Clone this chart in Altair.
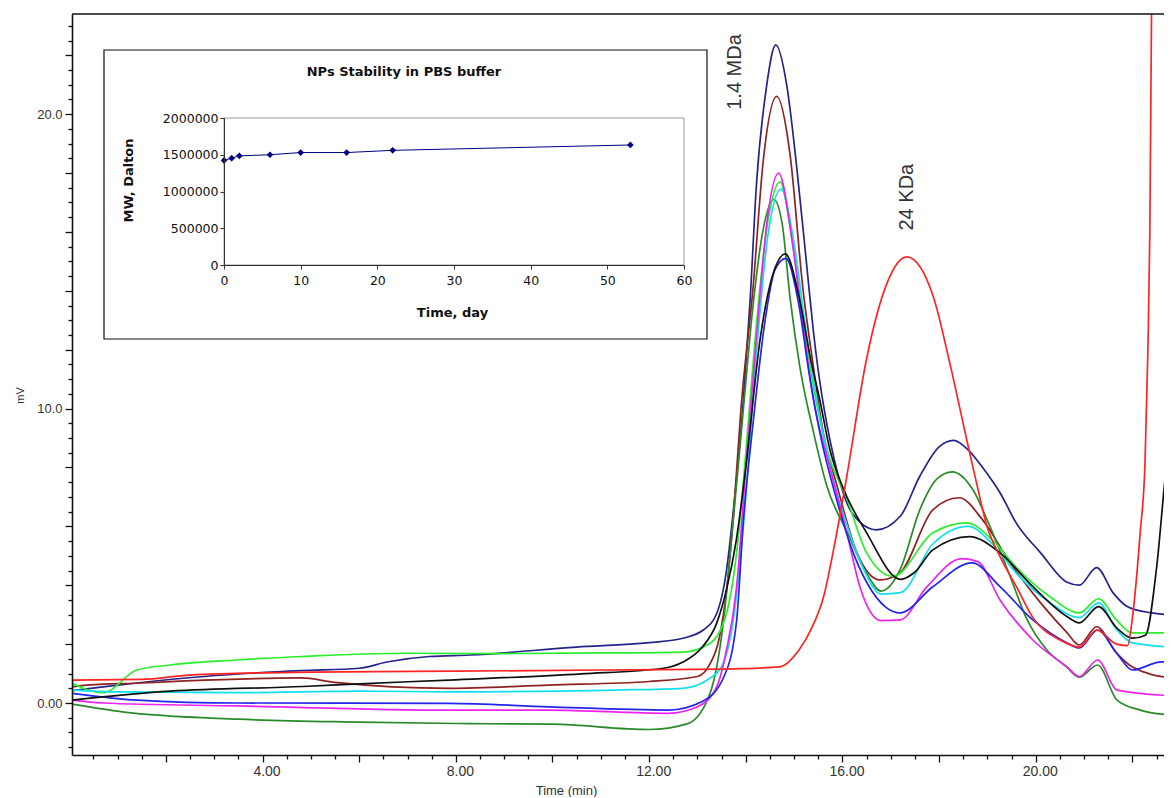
import altair as alt
import pandas as pd

# ---- main chromatogram traces: (time min, mV) ----
NAVY = [(0.06, 0.42), (0.7, 0.55), (1.4, 0.68), (2.8, 0.9), (4.8, 1.1), (6.0, 1.18), (6.6, 1.4),
        (7.45, 1.58), (8.3, 1.63), (10.5, 1.9), (12.0, 2.05), (12.7, 2.2), (13.12, 2.48), (13.4, 3.05),
        (13.6, 4.5), (13.74, 6.5), (13.95, 10.3), (14.09, 13.7), (14.22, 17.6), (14.43, 20.95),
        (14.62, 22.35), (14.85, 20.95), (15.06, 18.1), (15.27, 14.7), (15.4, 12.6), (15.9, 7.8),
        (16.2, 6.45), (16.7, 5.88), (17.2, 6.35), (17.6, 7.7), (18.0, 8.7), (18.3, 8.92), (18.6, 8.6),
        (18.9, 8.0), (19.26, 7.14), (19.6, 6.1), (20.1, 5.1), (20.65, 4.1), (20.9, 4.0), (21.26, 4.6),
        (21.6, 3.74), (21.9, 3.27), (22.4, 3.06), (22.8, 2.99)]
BROWN = [(0.06, 0.55), (0.3, 0.6), (1.5, 0.68), (2.4, 0.75), (4.8, 0.85), (5.5, 0.7), (7.86, 0.5),
         (9.93, 0.61), (12.0, 0.73), (13.0, 0.9), (13.25, 1.3), (13.45, 2.2), (13.6, 3.8), (13.75, 6.5),
         (13.9, 10.0), (14.15, 14.1), (14.36, 18.4), (14.64, 20.6), (14.91, 18.7), (15.18, 14.1),
         (15.4, 11.4), (15.6, 9.2), (15.9, 7.3), (16.3, 5.1), (16.78, 4.18), (17.19, 4.42), (17.87, 6.56),
         (18.41, 6.97), (18.9, 6.22), (19.47, 4.76), (20.1, 3.4), (20.65, 2.38), (20.9, 1.97),
         (21.26, 2.59), (21.67, 1.7), (22.0, 1.22), (22.8, 0.85)]
DARKGREEN = [(0.06, -0.04), (1.1, -0.3), (3.5, -0.55), (6.0, -0.65), (8.3, -0.7), (10.0, -0.72),
             (12.0, -0.9), (12.8, -0.7), (13.26, 0.33), (13.54, 2.8), (13.74, 6.2), (13.95, 10.0),
             (14.15, 13.5), (14.35, 16.0), (14.58, 17.1), (14.75, 16.3), (14.92, 13.7), (15.12, 11.4),
             (15.4, 9.2), (15.68, 7.35), (16.1, 5.8), (16.5, 4.4), (16.8, 3.8), (17.19, 4.52), (17.6, 6.56),
             (17.95, 7.6), (18.27, 7.85), (18.7, 7.24), (19.05, 6.0), (19.47, 4.3), (19.8, 2.9),
             (20.23, 1.8), (20.64, 1.22), (20.9, 0.88), (21.28, 1.29), (21.68, 0.1), (22.16, -0.24),
             (22.8, -0.41)]
LIGHTGREEN = [(0.06, 0.67), (0.7, 0.35), (1.4, 1.12), (2.09, 1.29), (3.47, 1.46), (4.84, 1.58),
              (6.91, 1.69), (9.0, 1.68), (11.0, 1.7), (12.7, 1.73), (13.26, 2.03), (13.6, 3.05),
              (13.81, 5.1), (14.0, 8.5), (14.2, 12.5), (14.45, 16.3), (14.71, 17.7), (14.95, 15.8),
              (15.2, 12.8), (15.45, 10.3), (15.68, 8.6), (16.1, 6.9), (16.5, 5.1), (17.05, 4.3),
              (17.87, 5.78), (18.57, 6.12), (19.1, 5.54), (19.6, 4.6), (20.3, 3.6), (20.9, 3.06),
              (21.3, 3.54), (21.67, 2.82), (22.0, 2.38), (22.8, 2.38)]
CYAN = [(0.06, 0.44), (1.0, 0.38), (3.5, 0.35), (6.0, 0.4), (7.86, 0.38), (11.3, 0.44), (12.7, 0.5),
        (13.2, 0.78), (13.5, 1.24), (13.74, 2.8), (13.95, 6.0), (14.2, 11.5), (14.45, 15.8),
        (14.73, 17.45), (15.0, 15.6), (15.25, 12.6), (15.5, 10.0), (15.75, 8.0), (16.1, 6.0),
        (16.45, 4.5), (16.8, 3.7), (17.2, 3.75), (17.87, 5.4), (18.6, 6.0), (19.1, 5.4), (19.6, 4.4),
        (20.3, 3.4), (20.9, 2.9), (21.3, 3.4), (21.67, 2.5), (22.0, 2.04), (22.8, 1.9)]
MAGENTA = [(0.06, 0.1), (0.7, 0.0), (3.5, -0.1), (7.86, -0.24), (9.93, -0.24), (12.4, -0.35),
           (13.0, -0.13), (13.4, 0.56), (13.6, 1.8), (13.81, 3.95), (14.0, 8.0), (14.25, 13.0),
           (14.45, 16.5), (14.68, 18.0), (14.95, 15.8), (15.2, 12.6), (15.4, 10.3), (15.74, 8.0),
           (16.09, 5.78), (16.36, 3.95), (16.8, 2.8), (17.19, 2.82), (17.75, 3.95), (18.47, 4.9),
           (18.8, 4.8), (19.26, 3.5), (19.94, 2.14), (20.65, 1.22), (20.9, 0.9), (21.28, 1.46),
           (21.68, 0.44), (22.8, 0.25)]
BLUE = [(0.06, 0.33), (1.4, 0.1), (3.5, 0.0), (7.86, -0.01), (9.93, -0.13), (12.4, -0.24), (13.1, 0.05),
        (13.55, 0.9), (13.81, 2.8), (13.95, 6.2), (14.15, 9.5), (14.4, 13.0), (14.6, 14.7), (14.83, 15.1),
        (15.1, 13.5), (15.3, 11.3), (15.53, 9.2), (15.88, 6.9), (16.2, 5.2), (16.5, 4.1), (16.9, 3.25),
        (17.19, 3.06), (17.87, 3.95), (18.68, 4.76), (19.26, 3.95), (19.94, 2.82), (20.65, 2.04),
        (20.9, 1.87), (21.28, 2.48), (21.67, 1.7), (22.0, 1.12), (22.6, 1.4), (22.8, 1.36)]
BLACK = [(0.06, 0.1), (2.09, 0.4), (4.84, 0.56), (6.0, 0.65), (7.86, 0.78), (10.6, 0.99), (12.3, 1.18),
         (12.7, 1.39), (13.1, 1.9), (13.4, 2.72), (13.6, 3.85), (13.8, 5.5), (14.0, 8.0), (14.3, 12.4),
         (14.55, 14.5), (14.82, 15.25), (15.1, 13.8), (15.35, 11.6), (15.53, 10.3), (15.74, 8.6),
         (16.0, 7.35), (16.5, 5.78), (17.2, 4.2), (17.5, 4.45), (17.87, 5.2), (18.63, 5.65), (19.26, 5.1),
         (19.94, 3.95), (20.65, 2.93), (20.9, 2.72), (21.3, 3.27), (21.67, 2.56), (22.0, 2.2),
         (22.27, 2.3), (22.5, 4.6), (22.7, 8.0), (22.8, 9.2)]
RED = [(0.06, 0.78), (1.5, 0.8), (2.5, 0.95), (5.0, 1.05), (8.0, 1.08), (11.0, 1.12), (13.5, 1.15),
       (14.7, 1.23), (15.1, 1.8), (15.35, 2.5), (15.61, 3.61), (15.85, 5.5), (16.09, 7.7), (16.5, 11.7),
       (16.92, 14.25), (17.33, 15.15), (17.88, 13.8), (18.22, 11.55), (18.57, 8.95),
       (18.77, 7.5), (18.99, 6.0), (19.26, 4.97), (19.6, 3.95), (19.94, 2.9), (20.5, 2.14), (20.9, 1.9),
       (21.26, 2.48), (21.67, 2.0), (21.9, 1.95), (22.0, 2.9), (22.16, 5.78), (22.26, 8.15),
       (22.32, 12.0), (22.36, 16.0), (22.4, 24.5)]

SERIES_NAMES = ["navy", "brown", "darkgreen", "lightgreen", "cyan", "magenta", "blue", "black", "red"]
SERIES_COLORS = ["#24248c", "#8e2222", "#2a8a2a", "#2aee2a", "#10e0ee", "#ee22ee", "#2424ee", "#111111", "#ff2424"]
SERIES_DATA = [NAVY, BROWN, DARKGREEN, LIGHTGREEN, CYAN, MAGENTA, BLUE, BLACK, RED]

# peak annotations
ANNOT_LABELS = ["1.4 MDa", "24 KDa"]
ANNOT_T = [13.78, 17.34]
ANNOT_MV = [21.43, 17.18]

# ---- inset: NPs stability ----
INSET_DAYS = [0, 1, 2, 6, 10, 16, 22, 53]
INSET_MW = [1423000, 1454000, 1485000, 1500000, 1530000, 1530000, 1560000, 1633000]
INSET_X_TICKS = [0, 10, 20, 30, 40, 50, 60]
INSET_Y_TICKS = [0, 500000, 1000000, 1500000, 2000000]

rows = []
for name, pts in zip(SERIES_NAMES, SERIES_DATA):
    for i, (t, v) in enumerate(pts):
        rows.append({"series": name, "t": t, "mv": v, "i": i})
df = pd.DataFrame(rows)

W, H = 1092, 741
X_DOMAIN = [0.058, 22.653]
Y_DOMAIN = [-1.766, 23.40]
x_major = [i * 2.0 for i in range(1, 12)]
y_major = [i * 2.0 for i in range(0, 12)]
x_minor = [i * 0.5 for i in range(1, 46) if i % 4 != 0]
y_minor = [i * 0.5 for i in range(-3, 47) if i % 4 != 0]

xscale = alt.Scale(domain=X_DOMAIN, nice=False, zero=False)
yscale = alt.Scale(domain=Y_DOMAIN, nice=False, zero=False)

NARROW = "Liberation Sans Narrow, Arial Narrow, Liberation Sans"

x_axis = alt.Axis(
    values=x_major, labelOverlap=False, labelFlush=False, zindex=1,
    labelExpr="datum.value % 4 === 0 ? format(datum.value, '.2f') : ''",
    tickSize=7, tickColor="#111", tickWidth=1.3, domainColor="#111", domainWidth=1.6,
    labelFont=NARROW, labelFontSize=14, labelColor="#333", labelPadding=2, labelOffset=4,
    title="Time (min)", titleFont=NARROW, titleFontSize=13, titleFontWeight="normal", titleColor="#333",
    titleX=494, titleY=35, titleBaseline="middle", titleAlign="center",
)
y_axis = alt.Axis(
    values=y_major + [10.0], labelOverlap=False, labelFlush=False, zindex=1,
    labelExpr="datum.value === 0 ? '0.00' : (datum.value % 10 === 0 ? format(datum.value, '.1f') : '')",
    tickSize=7, tickColor="#111", tickWidth=1.3, domainColor="#111", domainWidth=1.6,
    labelFont="Liberation Sans", labelFontSize=13, labelColor="#333", labelPadding=3,
    title="mV", titleFont="Liberation Sans", titleFontSize=11, titleFontWeight="normal",
    titleColor="#333", titleX=-52, titleY=381, titleBaseline="middle", titleAlign="center",
)

lines = alt.Chart(df).mark_line(strokeWidth=1.7, interpolate="monotone", clip=True).encode(
    x=alt.X("t:Q", scale=xscale, axis=x_axis),
    y=alt.Y("mv:Q", scale=yscale, axis=y_axis),
    color=alt.Color("series:N", scale=alt.Scale(domain=SERIES_NAMES, range=SERIES_COLORS), legend=None),
    order=alt.Order("i:Q"),
)

top_rule = alt.Chart(pd.DataFrame({"k": [0]})).mark_rule(color="#111", strokeWidth=1.6).encode(
    x=alt.value(0), x2=alt.value(W), y=alt.value(0)
)

ann = alt.Chart(pd.DataFrame({"t": ANNOT_T, "mv": ANNOT_MV, "label": ANNOT_LABELS})).mark_text(
    angle=270, fontSize=20, font="Liberation Sans", color="#333", align="center", baseline="middle"
).encode(x=alt.X("t:Q", scale=xscale, axis=x_axis), y=alt.Y("mv:Q", scale=yscale, axis=y_axis), text="label:N")

main = alt.layer(lines, top_rule, ann)

# minor ticks: same domains, separate axes
minor = alt.Chart(pd.DataFrame({"t": [1.0], "mv": [1.0]})).mark_point(opacity=0).encode(
    x=alt.X("t:Q", scale=xscale, axis=alt.Axis(orient="bottom", values=x_minor, labels=False, domain=False,
                                                 tickSize=4, tickColor="#111", tickWidth=1.3, title=None,
                                                 grid=False, zindex=1)),
    y=alt.Y("mv:Q", scale=yscale, axis=alt.Axis(orient="left", values=y_minor, labels=False, domain=False,
                                                  tickSize=4, tickColor="#111", tickWidth=1.3, title=None,
                                                  grid=False, zindex=1)),
)

# ---- inset ----
inset_df = pd.DataFrame({"day": INSET_DAYS, "mw": INSET_MW})
ix_scale = alt.Scale(domain=[0, 60], range=[152, 612], nice=False, zero=False)
iy_scale = alt.Scale(domain=[0, 2000000], range=[251, 104], nice=False, zero=False)
IFONT = "DejaVu Sans"

ix_axis = alt.Axis(
    orient="bottom", offset=-490, values=INSET_X_TICKS, format="d", grid=False, zindex=2,
    tickSize=4, tickColor="#333", domainColor="#333", domainWidth=1,
    labelFont=IFONT, labelFontSize=12.5, labelColor="#111", labelPadding=5, labelFlush=False,
    title="Time, day", titleFont=IFONT, titleFontSize=13, titleFontWeight="bold", titleColor="#111",
    titleX=380, titleY=47, titleBaseline="middle", titleAlign="center",
)
iy_axis = alt.Axis(
    orient="left", offset=-152, values=INSET_Y_TICKS, format="d", grid=False, zindex=2,
    tickSize=4, tickColor="#333", domainColor="#333", domainWidth=1,
    labelFont=IFONT, labelFontSize=12.5, labelColor="#111", labelPadding=2, labelFlush=False,
    title="MW, Dalton", titleFont=IFONT, titleFontSize=13, titleFontWeight="bold", titleColor="#111",
    titleX=-96, titleY=166, titleBaseline="middle", titleAlign="center", titleAngle=270,
)

box = alt.Chart(pd.DataFrame({"k": [0]})).mark_rect(fill="white", stroke="#111", strokeWidth=1.2).encode(
    x=alt.value(32), x2=alt.value(635), y=alt.value(36), y2=alt.value(325)
)
frame = alt.Chart(pd.DataFrame({"day": [0], "day2": [60], "mw": [0], "mw2": [2000000]})).mark_rect(
    fillOpacity=0, stroke="#999", strokeWidth=1
).encode(
    x=alt.X("day:Q", scale=ix_scale, axis=ix_axis), x2="day2:Q",
    y=alt.Y("mw:Q", scale=iy_scale, axis=iy_axis), y2="mw2:Q",
)
iline = alt.Chart(inset_df).mark_line(color="#000080", strokeWidth=1).encode(
    x=alt.X("day:Q", scale=ix_scale, axis=ix_axis),
    y=alt.Y("mw:Q", scale=iy_scale, axis=iy_axis),
)
ipts = alt.Chart(inset_df).mark_point(shape="diamond", filled=True, size=45, color="#000080", opacity=1).encode(
    x=alt.X("day:Q", scale=ix_scale, axis=ix_axis),
    y=alt.Y("mw:Q", scale=iy_scale, axis=iy_axis),
)
ititle = alt.Chart(pd.DataFrame({"k": [0]})).mark_text(
    text="NPs Stability in PBS buffer", font=IFONT, fontSize=13, fontWeight="bold", color="#111",
    align="center", baseline="middle"
).encode(x=alt.value(332), y=alt.value(58))

inset = alt.layer(box, frame, iline, ipts, ititle)

chart = alt.layer(main, minor, inset).resolve_scale(x="independent", y="independent").properties(
    width=W, height=H,
    autosize=alt.AutoSizeParams(type="none"),
    padding={"left": 64, "top": 6, "right": 0, "bottom": 42},
    background="white",
).configure_view(stroke=None).configure_axis(grid=False)

chart.save("out.html", embed_options={"renderer": "svg", "actions": False})
